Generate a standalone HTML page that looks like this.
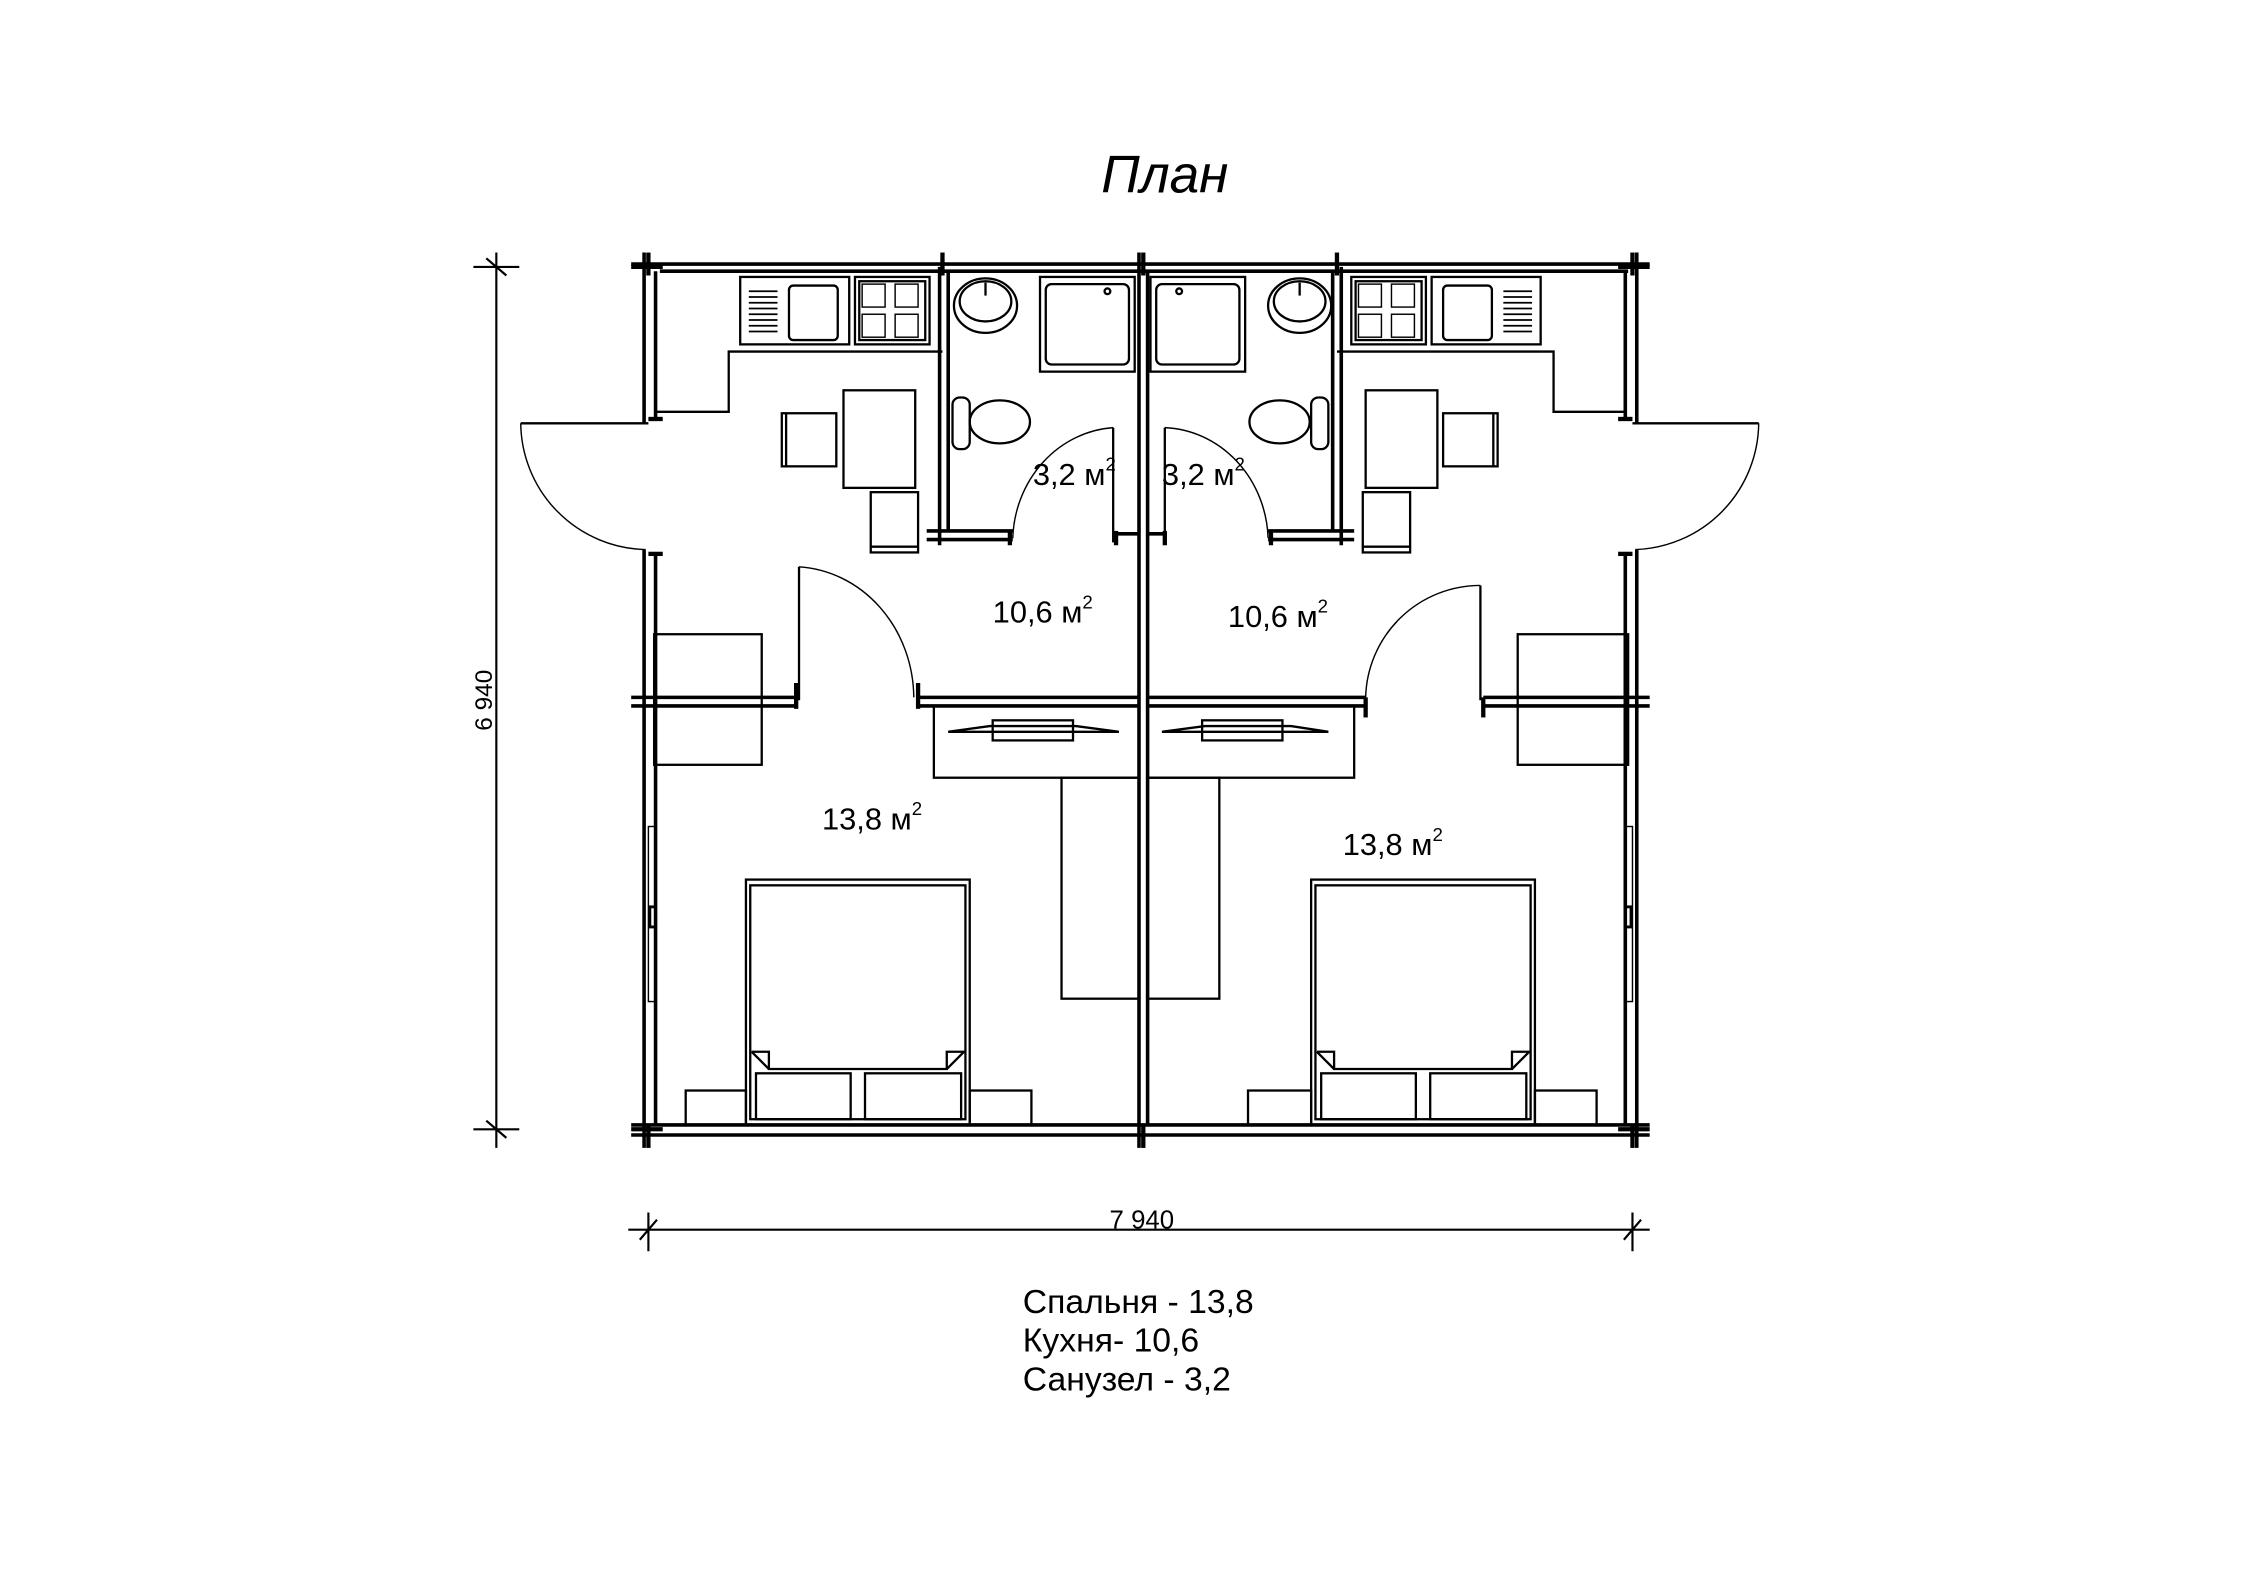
<!DOCTYPE html>
<html><head><meta charset="utf-8"><style>html,body{margin:0;padding:0;background:#fff}svg{display:block}</style></head>
<body>
<svg width="2245" height="1587" viewBox="0 0 1565 1106" preserveAspectRatio="none" xmlns="http://www.w3.org/2000/svg" font-family="Liberation Sans, sans-serif">
<rect width="1565" height="1106" fill="#fff"/>
<text x="812" y="134" font-size="37" font-style="italic" text-anchor="middle">План</text>
<g fill="none" stroke="#000" stroke-width="1.6">
<line x1="440" y1="184" x2="1150" y2="184" stroke-width="2.5"/>
<line x1="460" y1="189" x2="1135" y2="189" stroke-width="2.5"/>
<line x1="440" y1="784" x2="1150" y2="784" stroke-width="2.5"/>
<line x1="440" y1="791" x2="1150" y2="791" stroke-width="2.5"/>
<line x1="449" y1="176" x2="449" y2="295" stroke-width="2.5"/>
<line x1="457" y1="189" x2="457" y2="292" stroke-width="2.5"/>
<line x1="449" y1="383" x2="449" y2="800" stroke-width="2.5"/>
<line x1="457" y1="386" x2="457" y2="784" stroke-width="2.5"/>
<line x1="1141" y1="176" x2="1141" y2="295" stroke-width="2.5"/>
<line x1="1133" y1="189" x2="1133" y2="292" stroke-width="2.5"/>
<line x1="1141" y1="383" x2="1141" y2="800" stroke-width="2.5"/>
<line x1="1133" y1="386" x2="1133" y2="784" stroke-width="2.5"/>
<line x1="794" y1="176" x2="794" y2="800" stroke-width="2.5"/>
<line x1="800" y1="189" x2="800" y2="784" stroke-width="2.5"/>
<g stroke-width="3">
<line x1="452" y1="176" x2="452" y2="192"/><line x1="440" y1="186" x2="462" y2="186"/>
<line x1="1138" y1="176" x2="1138" y2="192"/><line x1="1128" y1="186" x2="1150" y2="186"/>
<line x1="657" y1="176" x2="657" y2="192"/><line x1="932" y1="176" x2="932" y2="192"/><line x1="797" y1="176" x2="797" y2="192"/>
<line x1="440" y1="787" x2="462" y2="787"/><line x1="1128" y1="787" x2="1150" y2="787"/>
<line x1="452" y1="783" x2="452" y2="800"/><line x1="1138" y1="783" x2="1138" y2="800"/><line x1="797" y1="783" x2="797" y2="800"/>
<line x1="452" y1="292" x2="462" y2="292"/><line x1="452" y1="386" x2="462" y2="386"/>
<line x1="1128" y1="292" x2="1138" y2="292"/><line x1="1128" y1="386" x2="1138" y2="386"/>
</g>
<line x1="452" y1="295" x2="363" y2="295"/>
<path d="M363,295 A89,89 0 0 0 450,383" stroke-width="1"/>
<line x1="1138" y1="295" x2="1226" y2="295"/>
<path d="M1226,295 A89,89 0 0 1 1140,383" stroke-width="1"/>
<line x1="655" y1="186" x2="655" y2="380" stroke-width="2.5"/>
<line x1="661" y1="189" x2="661" y2="370" stroke-width="2.5"/>
<line x1="646" y1="370" x2="706" y2="370" stroke-width="2.5"/>
<line x1="646" y1="376" x2="706" y2="376" stroke-width="2.5"/>
<line x1="704" y1="370" x2="704" y2="380" stroke-width="3"/>
<line x1="778" y1="370" x2="778" y2="380" stroke-width="3"/>
<line x1="778" y1="372" x2="794" y2="372" stroke-width="2.5"/>
<line x1="776" y1="298" x2="776" y2="378"/>
<path d="M776,298 A75,80 0 0 0 706,375" stroke-width="1"/>
<line x1="935" y1="186" x2="935" y2="380" stroke-width="2.5"/>
<line x1="929" y1="189" x2="929" y2="370" stroke-width="2.5"/>
<line x1="884" y1="370" x2="944" y2="370" stroke-width="2.5"/>
<line x1="884" y1="376" x2="944" y2="376" stroke-width="2.5"/>
<line x1="886" y1="370" x2="886" y2="380" stroke-width="3"/>
<line x1="812" y1="370" x2="812" y2="380" stroke-width="3"/>
<line x1="800" y1="372" x2="812" y2="372" stroke-width="2.5"/>
<line x1="812" y1="298" x2="812" y2="378"/>
<path d="M812,298 A75,80 0 0 1 884,375" stroke-width="1"/>
<ellipse cx="687" cy="213" rx="22" ry="19"/><ellipse cx="687" cy="210" rx="18" ry="14"/><line x1="687" y1="197" x2="687" y2="206"/>
<rect x="725" y="193" width="66" height="66"/><rect x="729" y="198" width="58" height="56" rx="4"/><circle cx="772" cy="203" r="2"/>
<ellipse cx="906" cy="213" rx="22" ry="19"/><ellipse cx="906" cy="210" rx="18" ry="14"/><line x1="906" y1="197" x2="906" y2="206"/>
<rect x="802" y="193" width="66" height="66"/><rect x="806" y="198" width="58" height="56" rx="4"/><circle cx="822" cy="203" r="2"/>
<ellipse cx="697" cy="294" rx="21" ry="15"/><rect x="664" y="277" width="12" height="36" rx="5"/>
<ellipse cx="892" cy="294" rx="21" ry="15"/><rect x="914" y="277" width="12" height="36" rx="5"/>
<polyline points="457,287 508,287 508,245 657,245"/>
<polyline points="1133,287 1083,287 1083,245 932,245"/>
<rect x="516" y="193" width="76" height="47"/><rect x="550" y="199" width="34" height="38" rx="3"/>
<rect x="596" y="193" width="52" height="47"/><rect x="599" y="196" width="46" height="41"/>
<rect x="998" y="193" width="76" height="47"/><rect x="1006" y="199" width="34" height="38" rx="3"/>
<rect x="942" y="193" width="52" height="47"/><rect x="945" y="196" width="46" height="41"/>
<g stroke-width="1">
<rect x="601" y="198" width="16" height="16"/><rect x="624" y="198" width="16" height="16"/><rect x="601" y="219" width="16" height="16"/><rect x="624" y="219" width="16" height="16"/>
<rect x="947" y="198" width="16" height="16"/><rect x="970" y="198" width="16" height="16"/><rect x="947" y="219" width="16" height="16"/><rect x="970" y="219" width="16" height="16"/>
</g>
<g stroke-width="1.2">
<path d="M522,203h20M522,207h20M522,211h20M522,215h20M522,219h20M522,223h20M522,227h20M522,231h20"/>
<path d="M1048,203h20M1048,207h20M1048,211h20M1048,215h20M1048,219h20M1048,223h20M1048,227h20M1048,231h20"/>
</g>
<rect x="588" y="272" width="50" height="68"/><rect x="545" y="288" width="38" height="37"/><line x1="548" y1="288" x2="548" y2="325"/>
<rect x="607" y="343" width="33" height="42"/><line x1="607" y1="381" x2="640" y2="381"/>
<rect x="952" y="272" width="50" height="68"/><rect x="1006" y="288" width="38" height="37"/><line x1="1041" y1="288" x2="1041" y2="325"/>
<rect x="950" y="343" width="33" height="42"/><line x1="950" y1="381" x2="983" y2="381"/>
<line x1="440" y1="486" x2="556" y2="486" stroke-width="2.5"/><line x1="440" y1="492" x2="556" y2="492" stroke-width="2.5"/>
<line x1="555" y1="476" x2="555" y2="494" stroke-width="3"/>
<line x1="640" y1="486" x2="794" y2="486" stroke-width="2.5"/><line x1="640" y1="492" x2="794" y2="492" stroke-width="2.5"/>
<line x1="640" y1="476" x2="640" y2="494" stroke-width="3"/>
<line x1="800" y1="486" x2="952" y2="486" stroke-width="2.5"/><line x1="800" y1="492" x2="952" y2="492" stroke-width="2.5"/>
<line x1="952" y1="486" x2="952" y2="500" stroke-width="3"/>
<line x1="1034" y1="486" x2="1150" y2="486" stroke-width="2.5"/><line x1="1034" y1="492" x2="1150" y2="492" stroke-width="2.5"/>
<line x1="1034" y1="486" x2="1034" y2="500" stroke-width="3"/>
<line x1="557" y1="395" x2="557" y2="488"/>
<path d="M557,395 A85,92 0 0 1 637,486" stroke-width="1"/>
<line x1="1032" y1="408" x2="1032" y2="488"/>
<path d="M1032,408 A80,80 0 0 0 952,486" stroke-width="1"/>
<rect x="456" y="442" width="75" height="91"/><rect x="1058" y="442" width="77" height="91"/>
<rect x="651" y="492" width="143" height="50"/><rect x="800" y="492" width="144" height="50"/>
<rect x="692" y="502" width="56" height="14"/><path d="M661,510 L690,506 L750,506 L780,510 Z"/>
<rect x="838" y="502" width="56" height="14"/><path d="M810,510 L840,506 L900,506 L926,510 Z"/>
<rect x="740" y="542" width="54" height="154"/><rect x="800" y="542" width="50" height="154"/>
<rect x="452" y="576" width="5" height="122" stroke-width="1"/><rect x="1133" y="576" width="5" height="122" stroke-width="1"/>
<rect x="453" y="632" width="4" height="14" stroke-width="2"/><rect x="1133" y="632" width="4" height="14" stroke-width="2"/>
<g>
<rect x="520" y="613" width="156" height="171"/><rect x="523" y="617" width="150" height="163"/>
<path d="M524,733 L536,733 L536,745 L660,745 L660,733 L672,733 L660,745"/>
<path d="M524,733 L536,745"/>
<rect x="527" y="748" width="66" height="32"/><rect x="603" y="748" width="67" height="32"/>
<rect x="478" y="760" width="42" height="24"/><rect x="676" y="760" width="43" height="24"/>
</g>
<g transform="translate(394,0)">
<rect x="520" y="613" width="156" height="171"/><rect x="523" y="617" width="150" height="163"/>
<path d="M524,733 L536,733 L536,745 L660,745 L660,733 L672,733 L660,745"/>
<path d="M524,733 L536,745"/>
<rect x="527" y="748" width="66" height="32"/><rect x="603" y="748" width="67" height="32"/>
<rect x="476" y="760" width="44" height="24"/><rect x="676" y="760" width="43" height="24"/>
</g>
<line x1="346" y1="176" x2="346" y2="800" stroke-width="1.5"/>
<line x1="330" y1="186" x2="362" y2="186" stroke-width="1.5"/><line x1="330" y1="787" x2="362" y2="787" stroke-width="1.5"/>
<line x1="339" y1="180" x2="353" y2="192" stroke-width="1.5"/><line x1="339" y1="781" x2="353" y2="793" stroke-width="1.5"/>
<line x1="438" y1="857" x2="1150" y2="857" stroke-width="1.5"/>
<line x1="452" y1="845" x2="452" y2="872" stroke-width="1.5"/><line x1="1138" y1="845" x2="1138" y2="872" stroke-width="1.5"/>
<line x1="446" y1="864" x2="458" y2="850" stroke-width="1.5"/><line x1="1132" y1="864" x2="1144" y2="850" stroke-width="1.5"/>
</g>
<g font-size="21.5" fill="#000">
<text x="720" y="338">3,2 м<tspan font-size="13" dy="-10">2</tspan></text>
<text x="810" y="338">3,2 м<tspan font-size="13" dy="-10">2</tspan></text>
<text x="692" y="434">10,6 м<tspan font-size="13" dy="-10">2</tspan></text>
<text x="856" y="437">10,6 м<tspan font-size="13" dy="-10">2</tspan></text>
<text x="573" y="578">13,8 м<tspan font-size="13" dy="-10">2</tspan></text>
<text x="936" y="596">13,8 м<tspan font-size="13" dy="-10">2</tspan></text>
</g>
<text x="796" y="856" font-size="18" text-anchor="middle">7 940</text>
<text transform="translate(343,488) rotate(-90)" font-size="17" text-anchor="middle">6 940</text>
<g font-size="23.5">
<text x="713" y="915">Спальня - 13,8</text>
<text x="713" y="942">Кухня- 10,6</text>
<text x="713" y="969">Санузел - 3,2</text>
</g>
</svg>
</body></html>
